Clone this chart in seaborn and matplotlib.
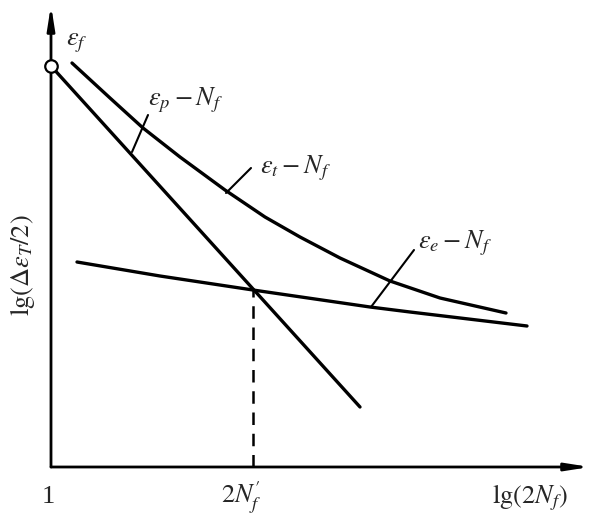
import matplotlib
matplotlib.use('Agg')
import matplotlib.pyplot as plt
import seaborn as sns
import numpy as np
import pandas as pd

sns.set_style('white')
plt.rcParams['font.family'] = ['Liberation Serif', 'DejaVu Serif']
plt.rcParams['mathtext.fontset'] = 'stix'

# schematic strain-life curves (arbitrary units, origin at the axes corner)
et_x = [0.42, 1.18, 1.84, 2.58, 3.48, 4.28, 4.98, 5.78, 6.78, 7.78, 9.10]
et_y = [8.08, 7.38, 6.78, 6.20, 5.54, 5.00, 4.60, 4.18, 3.72, 3.38, 3.08]
ep_x = [0.0, 6.18]
ep_y = [8.02, 1.20]
ee_x = [0.52, 2.18, 4.04, 6.38, 7.18, 9.52]
ee_y = [4.10, 3.82, 3.54, 3.20, 3.10, 2.82]
transition_x = 4.04
transition_y = 3.54
x_max, y_max = 10.78, 9.24

fig = plt.figure(figsize=(5.97, 5.19), dpi=100)
ax = fig.add_axes([51 / 597, 52 / 519, 539 / 597, 462 / 519])
ax.set_xlim(0, x_max)
ax.set_ylim(0, y_max)
ax.axis('off')

lw = 2.4
sns.lineplot(x=et_x, y=et_y, ax=ax, color='black', lw=lw, sort=False)
sns.lineplot(x=ep_x, y=ep_y, ax=ax, color='black', lw=lw, sort=False)
sns.lineplot(x=ee_x, y=ee_y, ax=ax, color='black', lw=lw, sort=False)
ax.plot([transition_x, transition_x], [0, transition_y], color='black',
        lw=1.8, dashes=(5, 3.5))
ax.plot(ep_x[0], ep_y[0], 'o', ms=9, mfc='white', mec='black', mew=1.6,
        zorder=5, clip_on=False)

# axes with arrows
arrow = dict(arrowstyle='-|>,head_length=1.4,head_width=0.22', lw=2,
             color='black', shrinkA=0, shrinkB=0)
ax.annotate('', xy=(x_max, 0), xytext=(0, 0), arrowprops=arrow,
            annotation_clip=False)
ax.annotate('', xy=(0, y_max), xytext=(0, 0), arrowprops=arrow,
            annotation_clip=False)

# leader lines
for (x0, y0), (x1, y1) in [((1.62, 6.30), (1.94, 7.04)),
                           ((3.50, 5.48), (4.00, 5.98)),
                           ((6.40, 3.20), (7.26, 4.34))]:
    ax.plot([x0, x1], [y0, y1], color='black', lw=1.5)

fs = 19
ax.text(0.30, 8.44, r'$\varepsilon_f$', fontsize=fs, va='baseline')
ax.text(1.94, 7.24, r'$\varepsilon_p-N_f$', fontsize=fs, va='baseline')
ax.text(4.18, 5.88, r'$\varepsilon_t-N_f$', fontsize=fs, va='baseline')
ax.text(7.34, 4.38, r'$\varepsilon_e-N_f$', fontsize=fs, va='baseline')

ax.text(-0.06, -0.72, '1', fontsize=fs, ha='center', va='baseline',
        clip_on=False)
ax.text(3.40, -0.72, r'$\mathrm{2}N^{\prime}_f$', fontsize=fs, va='baseline',
        clip_on=False)
ax.text(8.82, -0.72, r'$\mathrm{lg(2}N_f\mathrm{)}$', fontsize=fs,
        va='baseline', clip_on=False)
ax.text(-0.56, 4.04, r'$\mathrm{lg(\Delta}\varepsilon_T\mathrm{/2)}$',
        fontsize=fs, rotation=90, ha='center', va='center', clip_on=False)

plt.savefig('out.png', dpi=100)
